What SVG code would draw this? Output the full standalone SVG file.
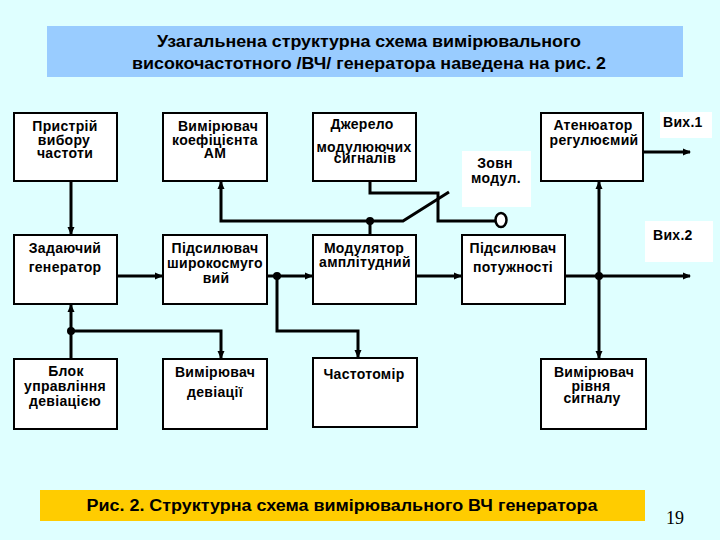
<svg xmlns="http://www.w3.org/2000/svg" width="720" height="540" viewBox="0 0 720 540">
<defs>
<marker id="arr" viewBox="0 0 8 8" refX="7" refY="4" markerWidth="8" markerHeight="8" markerUnits="userSpaceOnUse" orient="auto">
<path d="M0,0.5 L8,4 L0,7.5 Z" fill="#000"/>
</marker>
</defs>
<style>
.box{fill:#fff;stroke:#000;stroke-width:2}
.lbl{fill:#fff}
.t{font-family:"Liberation Sans",Arial,sans-serif;font-weight:bold;font-size:14px;letter-spacing:0.3px;text-anchor:middle;fill:#000}
.tl{font-family:"Liberation Sans",Arial,sans-serif;font-weight:bold;font-size:14px;letter-spacing:0.3px;fill:#000}
.head{font-family:"Liberation Sans",Arial,sans-serif;font-weight:bold;font-size:16px;text-anchor:middle;fill:#000}
.c{fill:none;stroke:#000;stroke-width:3}
.ca{fill:none;stroke:#000;stroke-width:3;marker-end:url(#arr)}
.dot{fill:#000}
</style>
<rect x="0" y="0" width="720" height="540" fill="#DFFFFF"/>

<g id="title">
<rect x="47" y="26" width="636" height="51" fill="#99CCFF"/>
<text class="head" x="369" y="47" textLength="424" lengthAdjust="spacingAndGlyphs">Узагальнена структурна схема вимірювального</text>
<text class="head" x="369" y="69" textLength="474" lengthAdjust="spacingAndGlyphs">високочастотного /ВЧ/ генератора наведена на рис. 2</text>
</g>

<g id="caption">
<rect x="40" y="490" width="605" height="31" fill="#FFCC00"/>
<text class="head" x="342" y="511" textLength="511" lengthAdjust="spacingAndGlyphs">Рис. 2. Структурна схема вимірювального ВЧ генератора</text>
</g>
<text x="675" y="524" font-family="'Liberation Serif',serif" font-size="18" text-anchor="middle" fill="#000">19</text>

<g id="n-vybir">
<rect class="box" x="14" y="113" width="103" height="68"/>
<text class="t" x="65" y="131">Пристрій</text>
<text class="t" x="64" y="145">вибору</text>
<text class="t" x="65" y="158">частоти</text>
</g>
<g id="n-vym-am">
<rect class="box" x="163" y="113" width="104" height="68"/>
<text class="t" x="218" y="131">Вимірювач</text>
<text class="t" x="215" y="145">коефіцієнта</text>
<text class="t" x="215" y="158">АМ</text>
</g>
<g id="n-dzherelo">
<rect class="box" x="313" y="113" width="103" height="68"/>
<text class="t" x="362" y="129">Джерело</text>
<text class="t" x="364" y="152">модулюючих</text>
<text class="t" x="365" y="163">сигналів</text>
</g>
<g id="n-atenuator">
<rect class="box" x="541" y="113" width="102" height="68"/>
<text class="t" x="593" y="130">Атенюатор</text>
<text class="t" x="594" y="145">регулюємий</text>
</g>
<g id="n-vyh1">
<rect class="lbl" x="660" y="112" width="52" height="26"/>
<text class="tl" x="663" y="127">Вих.1</text>
</g>
<g id="n-zovn">
<rect class="lbl" x="462" y="151" width="69" height="56"/>
<text class="t" x="495" y="168">Зовн</text>
<text class="t" x="496" y="183">модул.</text>
</g>

<g id="n-zadayuchyi">
<rect class="box" x="14" y="235" width="103" height="69"/>
<text class="t" x="65" y="253">Задаючий</text>
<text class="t" x="65" y="272">генератор</text>
</g>
<g id="n-pids-shyr">
<rect class="box" x="163" y="235" width="104" height="69"/>
<text class="t" x="215" y="253">Підсилювач</text>
<text class="t" x="215" y="268">широкосмуго</text>
<text class="t" x="216" y="283">вий</text>
</g>
<g id="n-modulator">
<rect class="box" x="313" y="235" width="103" height="69"/>
<text class="t" x="364" y="253">Модулятор</text>
<text class="t" x="365" y="267">амплітудний</text>
</g>
<g id="n-pids-pot">
<rect class="box" x="462" y="235" width="103" height="69"/>
<text class="t" x="513" y="253">Підсилювач</text>
<text class="t" x="513" y="272">потужності</text>
</g>
<g id="n-vyh2">
<rect class="lbl" x="645" y="221" width="68" height="41"/>
<text class="tl" x="653" y="240">Вих.2</text>
</g>

<g id="n-blok">
<rect class="box" x="14" y="359" width="103" height="70"/>
<text class="t" x="66" y="376">Блок</text>
<text class="t" x="65" y="391">управління</text>
<text class="t" x="65" y="406">девіацією</text>
</g>
<g id="n-vym-dev">
<rect class="box" x="163" y="359" width="104" height="70"/>
<text class="t" x="215" y="377">Вимірювач</text>
<text class="t" x="215" y="397">девіації</text>
</g>
<g id="n-chastotomir">
<rect class="box" x="313" y="358" width="104" height="69"/>
<text class="t" x="364" y="379">Частотомір</text>
</g>
<g id="n-vym-riv">
<rect class="box" x="541" y="359" width="105" height="70"/>
<text class="t" x="594" y="377">Вимірювач</text>
<text class="t" x="591" y="391">рівня</text>
<text class="t" x="592" y="403">сигналу</text>
</g>

<g id="connectors">
<path class="ca" d="M71,182 V234"/>
<path class="ca" d="M117,276 H162"/>
<path class="ca" d="M267,276 H312"/>
<path class="ca" d="M277,276 V331 H358 V357"/>
<path class="ca" d="M416,276 H461"/>
<path class="ca" d="M565,276 H690"/>
<path class="ca" d="M599,276 V182"/>
<path class="ca" d="M599,276 V358"/>
<path class="ca" d="M643,152 H690"/>
<path class="ca" d="M71,359 V305"/>
<path class="ca" d="M71,331 H221 V358"/>
<path class="ca" d="M370,221 H221 V182"/>
<path class="c" d="M370,221 V235"/>
<path class="c" d="M370,221 H403 L449,192" stroke-width="2"/>
<path class="c" d="M370,181 V193 H438 V221 H495"/>
<ellipse cx="501" cy="220" rx="5.5" ry="7" fill="#fff" stroke="#000" stroke-width="2.5"/>
<circle class="dot" cx="277" cy="276" r="4"/>
<circle class="dot" cx="599" cy="276" r="4"/>
<circle class="dot" cx="71" cy="331" r="4"/>
<circle class="dot" cx="370" cy="221" r="4"/>
</g>
</svg>
